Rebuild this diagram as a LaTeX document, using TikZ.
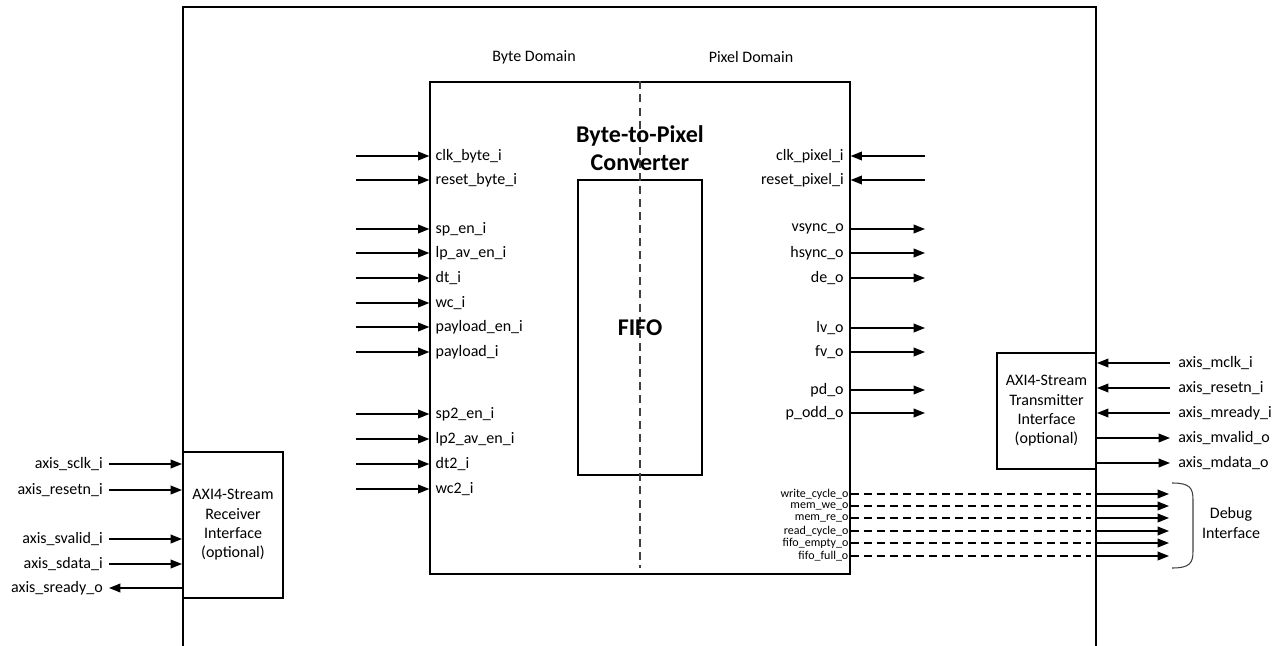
\documentclass[tikz,border=0pt]{standalone}
\usepackage{fontspec}
\setmainfont{Carlito}
\usetikzlibrary{arrows.meta}

\tikzset{
	sig/.style={line width=1.1pt,-{Triangle[length=8.5pt,width=6.5pt]}},
	dbg/.style={line width=1.1pt,dash pattern=on 6pt off 3.8pt},
	lbl/.style={font=\fontsize{12}{14}\selectfont,inner sep=0pt},
	dlbl/.style={font=\fontsize{9}{10}\selectfont,inner sep=0pt},
	blk/.style={draw,line width=1.5pt,align=center,inner sep=0pt,font=\fontsize{12}{14.5}\selectfont},
}

\begin{document}
\begin{tikzpicture}[x=0.75pt,y=-0.75pt,line join=miter]
	\useasboundingbox (0,0) rectangle (1278,646);
	%% outer frame
	\draw [line width=1.5pt] (183,646) -- (183,7) -- (1096,7) -- (1096,646);
	%% converter
	\node[draw,line width=0.9pt,minimum width=315pt,minimum height=369pt,inner sep=0pt] (conv) at (640,328) {};
	\node[draw,line width=0.9pt,minimum width=93pt,minimum height=221.25pt,inner sep=0pt] (fifo) at (640,327.5) {};
	\draw [line width=1.4pt,color=black!75,dash pattern=on 6pt off 3.8pt] (conv.north) -- ([yshift=5pt]conv.south);
	\node[font=\fontsize{18}{21}\selectfont\bfseries,align=center] (title) at (640,148) {Byte-to-Pixel\\Converter};
	\node[font=\fontsize{18}{21}\selectfont\bfseries] (fifotxt) at (fifo.center) {FIFO};
	\node[lbl] (bytedom) at (534,57) {Byte Domain};
	\node[lbl] (pixdom) at (751,57) {Pixel Domain};
	%% byte side inputs
	\foreach \y/\nm/\txt in {156/clkb/clk\_byte\_i,180/rstb/reset\_byte\_i,229/spen/sp\_en\_i,253/lpav/lp\_av\_en\_i,278/dt/dt\_i,303/wc/wc\_i,327/plen/payload\_en\_i,352/pl/payload\_i,414/sptwo/sp2\_en\_i,439/lptwo/lp2\_av\_en\_i,464/dttwo/dt2\_i,489/wctwo/wc2\_i}{
		\coordinate (\nm s) at (356,\y);
		\coordinate (\nm e) at (conv.west |- 0,\y);
		\draw [sig] (\nm s) -- (\nm e);
		\node[lbl,anchor=west] (\nm) at ([xshift=4.5pt]\nm e) {\txt};
	}
	%% pixel side inputs
	\foreach \y/\nm/\txt in {156/clkp/clk\_pixel\_i,180/rstp/reset\_pixel\_i}{
		\coordinate (\nm s) at (925,\y);
		\coordinate (\nm e) at (conv.east |- 0,\y);
		\draw [sig] (\nm s) -- (\nm e);
		\node[lbl,anchor=east] (\nm) at ([xshift=-5pt]\nm e) {\txt};
	}
	%% pixel side outputs
	\foreach \y/\nm/\txt in {229/vs/vsync\_o,253/hs/hsync\_o,278/de/de\_o,328/lv/lv\_o,352/fv/fv\_o,390/pd/pd\_o,413/podd/p\_odd\_o}{
		\coordinate (\nm s) at (conv.east |- 0,\y);
		\coordinate (\nm e) at (925,\y);
		\draw [sig] (\nm s) -- (\nm e);
		\node[lbl,anchor=east] (\nm) at ([xshift=-5pt]\nm s) {\txt};
	}
	%% debug outputs
	\foreach \y/\nm/\txt in {494/wcy/write\_cycle\_o,506/mwe/mem\_we\_o,518/mre/mem\_re\_o,531/rcy/read\_cycle\_o,543/fem/fifo\_empty\_o,556/ffu/fifo\_full\_o}{
		\coordinate (\nm a) at (conv.east |- 0,\y);
		\coordinate (\nm b) at (1096,\y);
		\coordinate (\nm c) at (1169,\y);
		\draw [dbg] (\nm a) -- ([xshift=-4pt]\nm b);
		\draw [sig] (\nm b) -- (\nm c);
		\node[dlbl,anchor=east] (\nm) at ([xshift=-1.5pt]\nm a) {\txt};
	}
	\draw [line width=0.8pt,color=black!75] (1172,483) .. controls (1190,483) and (1193,488) .. (1193,500) -- (1193,551) .. controls (1193,563) and (1190,568) .. (1172,568);
	\node[align=center,font=\fontsize{12}{14.5}\selectfont] (dbgif) at (1231,523) {Debug\\Interface};
	%% transmitter
	\node[blk,minimum width=74.25pt,minimum height=87pt] (tx) at (1046.5,411) {AXI4-Stream\\Transmitter\\Interface\\(optional)};
	\foreach \y/\nm/\txt in {363/mclk/axis\_mclk\_i,388/mrst/axis\_resetn\_i,413/mrdy/axis\_mready\_i}{
		\coordinate (\nm s) at (1170,\y);
		\coordinate (\nm e) at (tx.east |- 0,\y);
		\draw [sig] (\nm s) -- (\nm e);
		\node[lbl,anchor=west] (\nm) at ([xshift=6pt]\nm s) {\txt};
	}
	\foreach \y/\nm/\txt in {438/mval/axis\_mvalid\_o,463/mdat/axis\_mdata\_o}{
		\coordinate (\nm s) at (tx.east |- 0,\y);
		\coordinate (\nm e) at (1170,\y);
		\draw [sig] (\nm s) -- (\nm e);
		\node[lbl,anchor=west] (\nm) at ([xshift=6pt]\nm e) {\txt};
	}
	%% receiver
	\node[blk,minimum width=75pt,minimum height=109.5pt] (rx) at (233,525) {AXI4-Stream\\Receiver\\Interface\\(optional)};
	\foreach \y/\nm/\txt in {464/sclk/axis\_sclk\_i,490/srst/axis\_resetn\_i,539/sval/axis\_svalid\_i,564/sdat/axis\_sdata\_i}{
		\coordinate (\nm s) at (109,\y);
		\coordinate (\nm e) at (rx.west |- 0,\y);
		\draw [sig] (\nm s) -- (\nm e);
		\node[lbl,anchor=east] (\nm) at ([xshift=-4.5pt]\nm s) {\txt};
	}
	\coordinate (srdys) at (rx.west |- 0,588);
	\coordinate (srdye) at (109,588);
	\draw [sig] (srdys) -- (srdye);
	\node[lbl,anchor=east] (srdy) at ([xshift=-4.5pt]srdye) {axis\_sready\_o};
\end{tikzpicture}
\end{document}
